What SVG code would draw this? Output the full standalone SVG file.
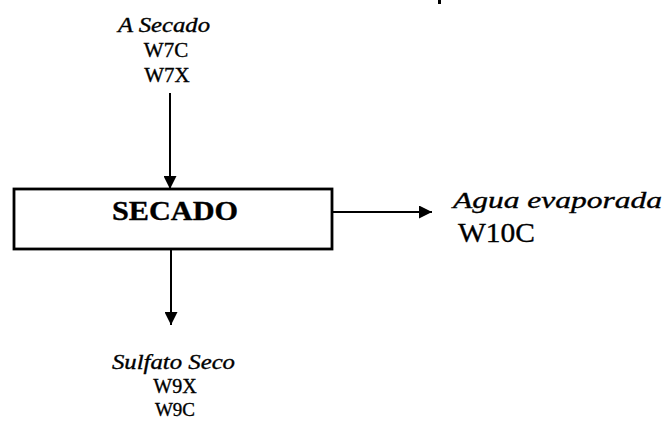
<svg xmlns="http://www.w3.org/2000/svg" width="667" height="421" viewBox="0 0 667 421">
<style>
.t{font-family:"Liberation Serif","Times New Roman",serif;fill:#000;stroke:#000;stroke-width:0.35}
.i{font-style:italic}
.c{text-anchor:middle}
.ln{stroke:#000;stroke-width:2;fill:none}
</style>
<defs>
<marker id="ah2" viewBox="0 0 10 10" refX="10" refY="5" markerWidth="14" markerHeight="13" orient="auto" markerUnits="userSpaceOnUse">
<path d="M0,0 L10,5 L0,10 Z" fill="#000"/>
</marker>
</defs>
<rect width="667" height="421" fill="#fff"/>
<rect x="438" y="0" width="3" height="4" fill="#000"/>
<g id="connectors">
<line class="ln" x1="170" y1="93" x2="170" y2="189" marker-end="url(#ah2)"/>
<line class="ln" x1="171" y1="249" x2="171" y2="325" marker-end="url(#ah2)"/>
<line class="ln" x1="332" y1="212" x2="432" y2="212" marker-end="url(#ah2)"/>
</g>
<g id="secado">
<rect x="14" y="189" width="318" height="60" fill="#fff" stroke="#000" stroke-width="2.8"/>
<text class="t" x="112" y="220" font-size="27" font-weight="bold" textLength="126" lengthAdjust="spacingAndGlyphs">SECADO</text>
</g>
<g id="entrada">
<text class="t i" x="118" y="32" font-size="20" textLength="92" lengthAdjust="spacingAndGlyphs">A Secado</text>
<text class="t c" x="166" y="57" font-size="21">W7C</text>
<text class="t c" x="167" y="82" font-size="21">W7X</text>
</g>
<g id="agua">
<text class="t i" x="453" y="208" font-size="23" textLength="209" lengthAdjust="spacingAndGlyphs">Agua evaporada</text>
<text class="t" x="458" y="242" font-size="28" textLength="77" lengthAdjust="spacingAndGlyphs">W10C</text>
</g>
<g id="salida">
<text class="t i" x="112" y="369" font-size="20" textLength="123" lengthAdjust="spacingAndGlyphs">Sulfato Seco</text>
<text class="t c" x="175" y="393" font-size="20">W9X</text>
<text class="t c" x="175" y="416" font-size="19">W9C</text>
</g>
</svg>
